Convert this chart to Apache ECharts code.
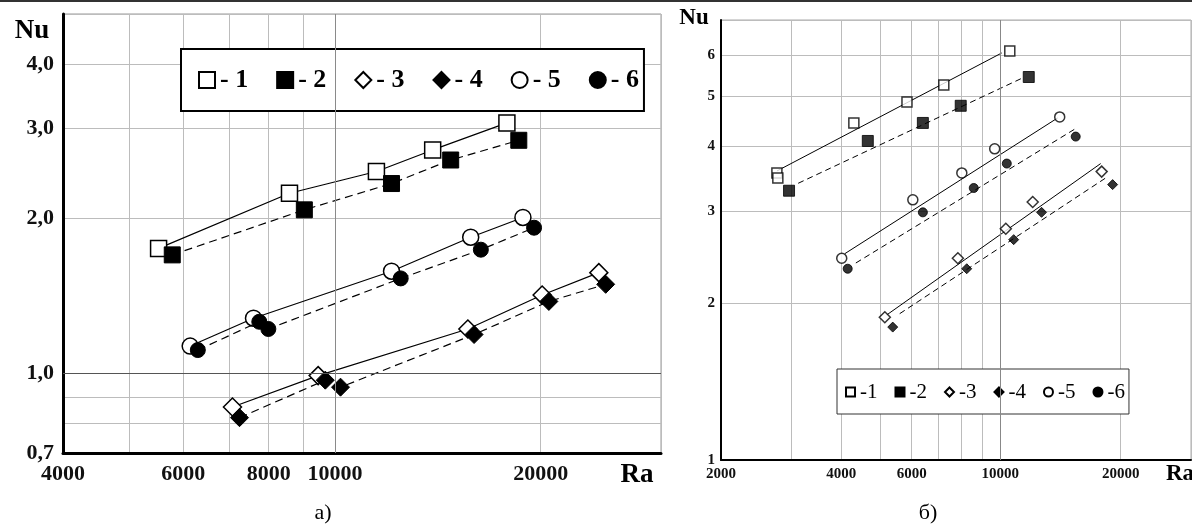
<!DOCTYPE html>
<html>
<head>
<meta charset="utf-8">
<script src="https://cdn.jsdelivr.net/npm/echarts@6/dist/echarts.min.js"></script>
<style>
  html, body { margin: 0; padding: 0; background: #fff; }
  #chart { width: 1192px; height: 524px; }
</style>
</head>
<body>
<div id="chart"></div>
<script>
// ---- Panel а): Nu versus Ra, six regimes ----
const aRa1 = [5520, 8580, 11500, 13900, 17850];
const aNu1 = [1.75, 2.24, 2.47, 2.72, 3.07];
const aRa2 = [5780, 9020, 12100, 14770, 18580];
const aNu2 = [1.70, 2.08, 2.34, 2.60, 2.84];
const aRa3 = [7080, 9450, 15650, 20100, 24330];
const aNu3 = [0.86, 0.99, 1.22, 1.42, 1.57];
const aRa4 = [7250, 9680, 10190, 15980, 20560, 24900];
const aNu4 = [0.82, 0.97, 0.94, 1.19, 1.38, 1.49];
const aRa5 = [6140, 7600, 12100, 15800, 18840];
const aNu5 = [1.13, 1.28, 1.58, 1.84, 2.01];
const aRa6 = [6300, 7750, 7990, 12480, 16350, 19560];
const aNu6 = [1.11, 1.26, 1.22, 1.53, 1.74, 1.92];

// ---- Panel б): measured points ----
const bRa1 = [2760, 2775, 4300, 5840, 7220, 10560];
const bNu1 = [3.56, 3.48, 4.44, 4.87, 5.25, 6.10];
const bRa2 = [2960, 4660, 6400, 7960, 11780];
const bNu2 = [3.29, 4.10, 4.44, 4.79, 5.44];
const bRa3 = [5140, 7830, 10320, 12050, 17930];
const bNu3 = [1.88, 2.44, 2.78, 3.13, 3.58];
const bRa4 = [5380, 8240, 10800, 12680, 19100];
const bNu4 = [1.80, 2.33, 2.65, 2.99, 3.38];
const bRa5 = [4010, 6040, 8010, 9680, 14080];
const bNu5 = [2.44, 3.16, 3.56, 3.96, 4.56];
const bRa6 = [4150, 6400, 8580, 10380, 15440];
const bNu6 = [2.33, 2.99, 3.33, 3.71, 4.18];

// ---- Panel б): approximating straight lines (end points) ----
const bFitRa1 = [2760, 10080];
const bFitNu1 = [3.59, 6.05];
const bFitRa2 = [3120, 11380];
const bFitNu2 = [3.40, 5.42];
const bFitRa3 = [5200, 17830];
const bFitNu3 = [1.90, 3.71];
const bFitRa4 = [5600, 18550];
const bFitNu4 = [1.91, 3.50];
const bFitRa5 = [4080, 13920];
const bFitNu5 = [2.49, 4.54];
const bFitRa6 = [4350, 15350];
const bFitNu6 = [2.39, 4.32];

// ---- Axis ticks and labels ----
const aRaTicks = [4000, 5000, 6000, 7000, 8000, 9000, 10000, 20000, 30000];
const aRaLabels = [4000, 6000, 8000, 10000, 20000];
const aNuTicks = [0.7, 0.8, 0.9, 1, 2, 3, 4, 5];
const aNuLabels = [0.7, 1, 2, 3, 4];
const bRaTicks = [2000, 3000, 4000, 5000, 6000, 7000, 8000, 9000, 10000, 20000, 30000];
const bRaLabels = [2000, 4000, 6000, 10000, 20000];
const bNuTicks = [1, 2, 3, 4, 5, 6, 7];
const bNuLabels = [1, 2, 3, 4, 5, 6];

const names = ['1', '2', '3', '4', '5', '6'];
const shapes = ['rect', 'rect', 'diamond', 'diamond', 'circle', 'circle'];
const SERIF = '"Liberation Serif", "Times New Roman", serif';

const zip = (xs, ys) => xs.map((x, i) => [x, ys[i]]);
const openStyle = { color: '#fff', borderColor: '#000', borderWidth: 1.5 };
const filledStyle = { color: '#000', borderColor: '#000', borderWidth: 1 };

const aRa = [aRa1, aRa2, aRa3, aRa4, aRa5, aRa6];
const aNu = [aNu1, aNu2, aNu3, aNu4, aNu5, aNu6];
const bRa = [bRa1, bRa2, bRa3, bRa4, bRa5, bRa6];
const bNu = [bNu1, bNu2, bNu3, bNu4, bNu5, bNu6];
const bFitRa = [bFitRa1, bFitRa2, bFitRa3, bFitRa4, bFitRa5, bFitRa6];
const bFitNu = [bFitNu1, bFitNu2, bFitNu3, bFitNu4, bFitNu5, bFitNu6];

const aSizes = [16, 16, 18, 18, 16, 15];
const bSizes = [10, 11, 11, 10, 10, 9];

const series = [];

// Panel а: markers joined by solid (open) or dashed (filled) lines
names.forEach((n, i) => {
  const isOpen = i % 2 === 0;
  series.push({
    name: n,
    type: 'line',
    xAxisIndex: 0,
    yAxisIndex: 0,
    data: zip(aRa[i], aNu[i]),
    symbol: shapes[i],
    symbolSize: aSizes[i],
    showAllSymbol: true,
    itemStyle: isOpen ? openStyle : filledStyle,
    lineStyle: { color: '#000', width: 1.2, type: isOpen ? 'solid' : [8, 5] },
    z: isOpen ? 3 : 4,
    markLine: i === 0 ? {
      silent: true,
      symbol: 'none',
      label: { show: false },
      data: [
        { yAxis: 1, lineStyle: { color: '#555', width: 1, type: 'solid' } },
        { xAxis: 10000, lineStyle: { color: '#8a8a8a', width: 1, type: 'solid' } }
      ]
    } : undefined
  });
});

// Panel б: approximating lines
names.forEach((n, i) => {
  const isOpen = i % 2 === 0;
  series.push({
    name: 'fit' + n,
    type: 'line',
    xAxisIndex: 1,
    yAxisIndex: 1,
    data: zip(bFitRa[i], bFitNu[i]),
    symbol: 'none',
    lineStyle: { color: '#000', width: 1, type: isOpen ? 'solid' : [6, 4] },
    z: 2,
    markLine: i === 0 ? {
      silent: true,
      symbol: 'none',
      label: { show: false },
      lineStyle: { color: '#888', width: 1, type: 'solid' },
      data: [{ xAxis: 10000 }]
    } : undefined
  });
});

// Panel б: measured points
names.forEach((n, i) => {
  const isOpen = i % 2 === 0;
  series.push({
    name: n,
    type: 'scatter',
    xAxisIndex: 1,
    yAxisIndex: 1,
    data: zip(bRa[i], bNu[i]),
    symbol: shapes[i],
    symbolSize: bSizes[i],
    itemStyle: isOpen ? openStyle : filledStyle,
    z: 5
  });
});

const gridLine = { show: true, lineStyle: { color: '#bcbcbc', width: 1 } };

const option = {
  animation: false,
  backgroundColor: '#fff',
  grid: [
    { left: 63, top: 14, width: 598, height: 439, show: true, borderColor: '#999', borderWidth: 1, containLabel: false },
    { left: 721, top: 20, width: 470, height: 440, show: true, borderColor: '#aaa', borderWidth: 1, containLabel: false }
  ],
  xAxis: [
    {
      gridIndex: 0, type: 'log', logBase: 10, min: 4000, max: 30000,
      axisLine: { show: true, lineStyle: { color: '#000', width: 3 } },
      axisTick: { show: true, length: 0, customValues: aRaTicks },
      axisLabel: {
        customValues: aRaLabels, margin: 10,
        fontFamily: SERIF, fontWeight: 'bold', fontSize: 22, color: '#111',
        formatter: v => String(Math.round(v))
      },
      splitLine: gridLine
    },
    {
      gridIndex: 1, type: 'log', logBase: 10, min: 2000, max: 30000,
      axisLine: { show: true, lineStyle: { color: '#000', width: 2 } },
      axisTick: { show: true, length: 0, customValues: bRaTicks },
      axisLabel: {
        customValues: bRaLabels, margin: 7,
        fontFamily: SERIF, fontWeight: 'bold', fontSize: 15, color: '#111',
        formatter: v => String(Math.round(v))
      },
      splitLine: gridLine
    }
  ],
  yAxis: [
    {
      gridIndex: 0, type: 'log', logBase: 10, min: 0.7, max: 5,
      axisLine: { show: true, lineStyle: { color: '#000', width: 3 } },
      axisTick: { show: true, length: 0, customValues: aNuTicks },
      axisLabel: {
        customValues: aNuLabels, margin: 9,
        fontFamily: SERIF, fontWeight: 'bold', fontSize: 22, color: '#111',
        formatter: v => v.toFixed(1).replace('.', ',')
      },
      splitLine: gridLine
    },
    {
      gridIndex: 1, type: 'log', logBase: 10, min: 1, max: 7,
      axisLine: { show: true, lineStyle: { color: '#000', width: 2 } },
      axisTick: { show: true, length: 0, customValues: bNuTicks },
      axisLabel: {
        customValues: bNuLabels, margin: 6,
        fontFamily: SERIF, fontWeight: 'bold', fontSize: 15, color: '#111',
        formatter: v => String(Math.round(v))
      },
      splitLine: gridLine
    }
  ],
  legend: [
    {
      left: 181, top: 49,
      orient: 'horizontal',
      data: names.map((n, i) => ({ name: n, icon: shapes[i] })),
      itemWidth: 16, itemHeight: 16, itemGap: 28,
      padding: [16, 5, 16, 17],
      borderColor: '#000', borderWidth: 2,
      backgroundColor: '#fff',
      selectedMode: false,
      formatter: '- {name}',
      textStyle: { fontFamily: SERIF, fontWeight: 'bold', fontSize: 26, color: '#000', lineHeight: 30 }
    },
    {
      left: 837, top: 369,
      orient: 'horizontal',
      data: names.map((n, i) => ({ name: n, icon: shapes[i] })),
      itemWidth: 9, itemHeight: 9, itemGap: 17,
      padding: [10, 4, 9, 8],
      borderColor: '#333', borderWidth: 1,
      backgroundColor: '#fff',
      selectedMode: false,
      formatter: '-{name}',
      textStyle: { fontFamily: SERIF, fontSize: 21, color: '#000', lineHeight: 26 }
    }
  ],
  graphic: [
    { type: 'line', shape: { x1: 0, y1: 1, x2: 1192, y2: 1 }, style: { stroke: '#333', lineWidth: 2 } },
    { type: 'text', x: 32, y: 31, style: { text: 'Nu', fontFamily: SERIF, fontWeight: 'bold', fontSize: 27, fill: '#000', align: 'center', verticalAlign: 'middle' } },
    { type: 'text', x: 637, y: 475, style: { text: 'Ra', fontFamily: SERIF, fontWeight: 'bold', fontSize: 27, fill: '#000', align: 'center', verticalAlign: 'middle' } },
    { type: 'text', x: 323, y: 513, style: { text: 'а)', fontFamily: SERIF, fontSize: 22, fill: '#000', align: 'center', verticalAlign: 'middle' } },
    { type: 'text', x: 694, y: 18, style: { text: 'Nu', fontFamily: SERIF, fontWeight: 'bold', fontSize: 23, fill: '#000', align: 'center', verticalAlign: 'middle' } },
    { type: 'text', x: 1180, y: 474, style: { text: 'Ra', fontFamily: SERIF, fontWeight: 'bold', fontSize: 23, fill: '#000', align: 'center', verticalAlign: 'middle' } },
    { type: 'text', x: 928, y: 513, style: { text: 'б)', fontFamily: SERIF, fontSize: 22, fill: '#000', align: 'center', verticalAlign: 'middle' } }
  ],
  series: series
};

const chart = echarts.init(document.getElementById('chart'), null, { renderer: 'canvas' });
chart.setOption(option);
</script>
</body>
</html>
